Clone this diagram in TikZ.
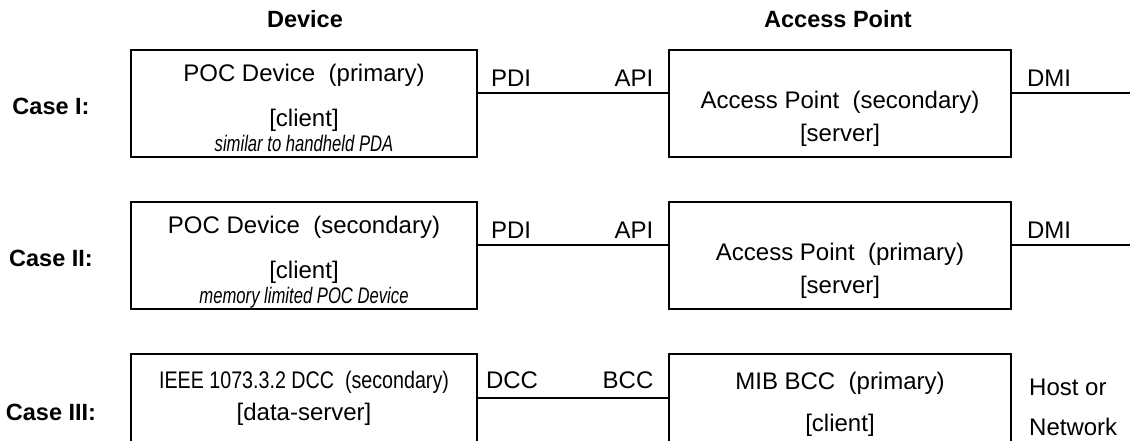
\documentclass[tikz,border=0pt]{standalone}
\usepackage{fontspec}
\setmainfont{Liberation Sans}
\newfontfamily\narrowfont[FakeStretch=0.82]{Liberation Sans}
\newfontfamily\narrowitfont[FakeStretch=0.74]{Liberation Sans Italic}
\begin{document}
\begin{tikzpicture}[x=1pt,y=-1pt,
  box/.style={draw,line width=1.9pt,inner sep=0pt},
  conn/.style={line width=1.9pt},
  txt/.style={anchor=base,inner sep=0pt,font=\fontsize{24}{27}\selectfont},
  head/.style={anchor=base,inner sep=0pt,font=\fontsize{23.5}{27}\selectfont\bfseries},
  note/.style={anchor=base,inner sep=0pt,font=\fontsize{22.5}{26}\selectfont\narrowitfont},
  narrow/.style={anchor=base,inner sep=0pt,font=\fontsize{24}{27}\selectfont\narrowfont}]
\useasboundingbox (0,0) rectangle (1130,440);
\clip (0,0) rectangle (1130,440);
% headers
\node[head] (hdev) at (305,27) {Device};
\node[head] (hap) at (838,27) {Access Point};
% case labels
\node[head] (c1) at (51,114) {Case I:};
\node[head] (c2) at (51,266) {Case II:};
\node[head] (c3) at (51,420) {Case III:};
% boxes
\node[box,minimum width=346pt,minimum height=107pt] (d1) at (304,103.5) {};
\node[box,minimum width=342pt,minimum height=107pt] (a1) at (840,103.5) {};
\node[box,minimum width=346pt,minimum height=107pt] (d2) at (304,255.5) {};
\node[box,minimum width=342pt,minimum height=107pt] (a2) at (840,255.5) {};
\node[box,minimum width=346pt,minimum height=107pt] (d3) at (304,407.5) {};
\node[box,minimum width=342pt,minimum height=107pt] (a3) at (840,407.5) {};
% box texts case I
\node[txt] (d1a) at (304,81) {POC Device\ \ (primary)};
\node[txt] (d1b) at (304,126) {[client]};
\node[note] (d1c) at (304,151) {similar to handheld PDA};
\node[txt] (a1a) at (840,108) {Access Point\ \ (secondary)};
\node[txt] (a1b) at (840,141) {[server]};
% case II
\node[txt] (d2a) at (304,233) {POC Device\ \ (secondary)};
\node[txt] (d2b) at (304,278) {[client]};
\node[note] (d2c) at (304,303) {memory limited POC Device};
\node[txt] (a2a) at (840,260) {Access Point\ \ (primary)};
\node[txt] (a2b) at (840,293) {[server]};
% case III
\node[narrow] (d3a) at (304,388) {IEEE 1073.3.2 DCC\ \ (secondary)};
\node[txt] (d3b) at (304,420) {[data-server]};
\node[txt] (a3a) at (840,389) {MIB BCC\ \ (primary)};
\node[txt] (a3b) at (840,431) {[client]};
% connectors
\coordinate (e1) at (1130,93);
\coordinate (e2) at (1130,245);
\coordinate (e3) at (600,398);
\draw[conn] (d1.east |- e1) -- (a1.west |- e1);
\draw[conn] (a1.east |- e1) -- (e1);
\draw[conn] (d2.east |- e2) -- (a2.west |- e2);
\draw[conn] (a2.east |- e2) -- (e2);
\draw[conn] (d3.east |- e3) -- (a3.west |- e3);
% interface labels
\node[txt] (pdi1) at (511,86) {PDI};
\node[txt] (api1) at (634,86) {API};
\node[txt] (dmi1) at (1049,86) {DMI};
\node[txt] (pdi2) at (511,238) {PDI};
\node[txt] (api2) at (634,238) {API};
\node[txt] (dmi2) at (1049,238) {DMI};
\node[txt] (dcc3) at (512,388) {DCC};
\node[txt] (bcc3) at (628,388) {BCC};
\node[txt,anchor=base west] (host) at (1029,395) {Host or};
\node[txt,anchor=base west] (net) at (1029,435) {Network};
\end{tikzpicture}
\end{document}
